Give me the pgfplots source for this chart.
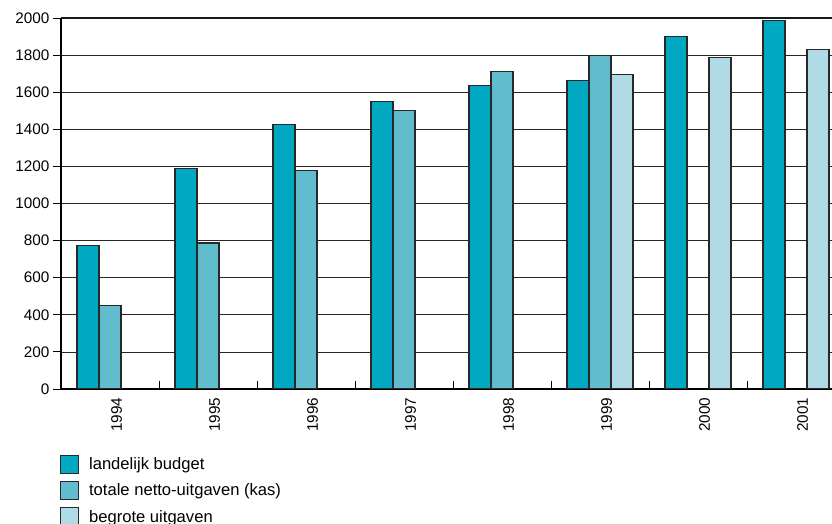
\documentclass[border=0pt]{standalone}
\usepackage{pgfplots}
\pgfplotsset{compat=1.18}
\usepackage{fontspec}
\setmainfont{Liberation Sans}
\definecolor{c1}{RGB}{0,169,193}
\definecolor{c2}{RGB}{97,189,206}
\definecolor{c3}{RGB}{176,219,230}
\definecolor{edge}{RGB}{40,40,40}
\begin{document}
\begin{tikzpicture}
\useasboundingbox (0,0) rectangle (832pt,524pt);
\begin{axis}[
  at={(61pt,135pt)}, anchor=south west,
  scale only axis, width=771pt, height=371pt,
  xmin=-0.5, xmax=7.367, ymin=0, ymax=2000,
  ybar=0pt, bar width=0.2245,
  axis x line*=bottom, axis y line*=left,
  x axis line style={line width=1.6pt, -},
  y axis line style={line width=2.4pt, -},
  xtick={0,1,2,3,4,5,6,7},
  xticklabels={1994,1995,1996,1997,1998,1999,2000,2001},
  ytick={0,200,...,2000},
  ytick align=outside, xtick align=inside,
  major tick length=8pt, minor tick length=8pt,
  major x tick style={draw=none},
  minor xtick={0.5,1.5,2.5,3.5,4.5,5.5,6.5},
  minor x tick style={line width=0.8pt, black},
  major y tick style={line width=0.8pt, black},
  ymajorgrids, grid style={black!85, line width=0.7pt},
  /pgf/number format/assume math mode=true,
  /pgf/number format/1000 sep={},
  y tick label style={font=\fontsize{15.3}{18}\selectfont},
  x tick label style={font=\fontsize{15.3}{18}\selectfont, rotate=90, anchor=east, yshift=-6.5pt, xshift=-5pt},
  every axis plot/.append style={draw=edge, line width=1.1pt},
  legend image code/.code={\draw[#1, line width=1.1pt] (0pt,-9pt) rectangle (18pt,9pt);},
  legend cell align=left,
  legend style={at={(axis description cs:0,0)}, anchor=north west, xshift=-1pt, yshift=-66pt,
    draw=none, fill=none, inner sep=0pt, outer sep=0pt,
    nodes={inner sep=0pt, outer sep=0pt},
    column sep=10pt, row sep=7pt,
    font=\fontsize{16.6}{19}\selectfont},
]
\addplot[fill=c1] coordinates {(0,775) (1,1190) (2,1425) (3,1552) (4,1637) (5,1662) (6,1900) (7,1985)};
\addplot[fill=c2] coordinates {(0,450) (1,787) (2,1180) (3,1503) (4,1713) (5,1800)};
\addplot[fill=c3] coordinates {(5,1697) (6,1788) (7,1828)};
\legend{landelijk budget, totale netto-uitgaven (kas), begrote uitgaven}
\draw[line width=2.4pt, black!90] (rel axis cs:0,1) -- (rel axis cs:1,1);
\end{axis}
\end{tikzpicture}
\end{document}
